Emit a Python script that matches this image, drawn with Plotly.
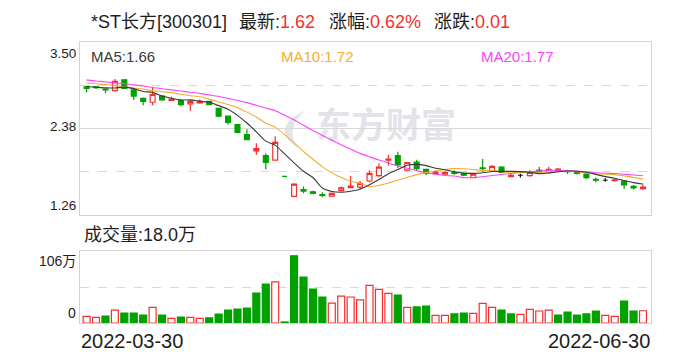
import plotly.graph_objects as go

# ---------------- data ----------------
days = list(range(60))                      # trading-day index
x_labels = ["2022-03-30", "2022-06-30"]     # first / last date labels
stock_name = "*ST长方[300301]"

opens = [2.92, 2.92, 2.89, 2.87, 3.01, 2.88, 2.77, 2.72, 2.80, 2.745,
         2.74, 2.70, 2.71, 2.73, 2.64, 2.54, 2.43, 2.30, 2.09, 2.03,
         1.97, 1.76, 1.50, 1.59, 1.56, 1.525, 1.505, 1.575, 1.615, 1.62,
         1.70, 1.77, 1.97, 2.03, 1.84, 1.945, 1.85, 1.795, 1.79, 1.81,
         1.80, 1.745, 1.87, 1.83, 1.88, 1.755, 1.775, 1.77, 1.84, 1.81,
         1.825, 1.825, 1.82, 1.79, 1.72, 1.71, 1.705, 1.70, 1.63, 1.60]
highs = [2.93, 2.93, 2.90, 3.02, 3.01, 2.89, 2.78, 2.92, 2.81, 2.79,
         2.75, 2.76, 2.76, 2.74, 2.64, 2.54, 2.43, 2.37, 2.19, 2.06,
         2.28, 1.76, 1.67, 1.63, 1.575, 1.555, 1.55, 1.63, 1.765, 1.70,
         1.84, 1.93, 2.04, 2.08, 1.94, 1.975, 1.86, 1.84, 1.825, 1.84,
         1.81, 1.80, 1.985, 1.905, 1.89, 1.80, 1.795, 1.84, 1.88, 1.88,
         1.87, 1.845, 1.83, 1.80, 1.745, 1.74, 1.725, 1.70, 1.65, 1.655]
lows = [2.85, 2.89, 2.84, 2.86, 2.89, 2.75, 2.68, 2.68, 2.74, 2.74,
        2.67, 2.61, 2.70, 2.68, 2.53, 2.43, 2.32, 2.23, 2.04, 1.85,
        1.97, 1.76, 1.49, 1.54, 1.53, 1.49, 1.50, 1.565, 1.61, 1.59,
        1.68, 1.75, 1.90, 1.865, 1.83, 1.84, 1.775, 1.78, 1.78, 1.78,
        1.765, 1.735, 1.82, 1.82, 1.80, 1.755, 1.745, 1.755, 1.80, 1.80,
        1.815, 1.79, 1.785, 1.725, 1.685, 1.69, 1.69, 1.60, 1.59, 1.585]
closes = [2.90, 2.91, 2.88, 2.99, 2.90, 2.80, 2.73, 2.82, 2.75, 2.76,
          2.69, 2.73, 2.73, 2.69, 2.54, 2.46, 2.33, 2.235, 2.12, 1.94,
          2.20, 1.76, 1.66, 1.57, 1.54, 1.515, 1.54, 1.61, 1.635, 1.67,
          1.80, 1.88, 1.985, 1.91, 1.94, 1.86, 1.80, 1.82, 1.81, 1.80,
          1.775, 1.79, 1.86, 1.89, 1.81, 1.775, 1.775, 1.81, 1.81, 1.85,
          1.855, 1.82, 1.80, 1.745, 1.71, 1.71, 1.715, 1.65, 1.61, 1.62]

ma5 = [2.924, 2.915, 2.906, 2.905, 2.916, 2.896, 2.860, 2.848, 2.800, 2.772,
       2.750, 2.750, 2.732, 2.720, 2.676, 2.630, 2.550, 2.451, 2.337, 2.217,
       2.165, 2.051, 1.936, 1.826, 1.746, 1.609, 1.565, 1.555, 1.568, 1.594,
       1.651, 1.719, 1.794, 1.849, 1.903, 1.915, 1.899, 1.866, 1.846, 1.818,
       1.801, 1.799, 1.807, 1.823, 1.825, 1.825, 1.822, 1.812, 1.796, 1.804,
       1.820, 1.829, 1.827, 1.814, 1.786, 1.757, 1.736, 1.706, 1.679, 1.661]
ma10 = [2.970, 2.960, 2.950, 2.935, 2.920, 2.905, 2.890, 2.870, 2.855, 2.844,
        2.823, 2.805, 2.790, 2.760, 2.724, 2.690, 2.650, 2.592, 2.529, 2.447,
        2.398, 2.301, 2.194, 2.082, 1.982, 1.887, 1.808, 1.746, 1.697, 1.670,
        1.630, 1.642, 1.675, 1.709, 1.749, 1.783, 1.809, 1.830, 1.848, 1.861,
        1.858, 1.849, 1.837, 1.835, 1.822, 1.813, 1.811, 1.810, 1.810, 1.815,
        1.823, 1.826, 1.820, 1.805, 1.795, 1.789, 1.783, 1.767, 1.747, 1.724]
ma20 = [3.010, 2.995, 2.985, 2.970, 2.960, 2.945, 2.930, 2.910, 2.895, 2.880,
        2.865, 2.850, 2.835, 2.815, 2.795, 2.770, 2.745, 2.715, 2.680, 2.645,
        2.610, 2.553, 2.492, 2.421, 2.353, 2.289, 2.229, 2.169, 2.113, 2.058,
        2.014, 1.971, 1.934, 1.895, 1.865, 1.835, 1.809, 1.788, 1.772, 1.765,
        1.744, 1.746, 1.756, 1.772, 1.785, 1.798, 1.810, 1.820, 1.829, 1.838,
        1.840, 1.837, 1.828, 1.820, 1.808, 1.801, 1.797, 1.788, 1.778, 1.769]

volume_wan = [9.8, 8.3, 10.3, 19.1, 14.7, 14.7, 11.8, 23.0, 11.8, 6.9,
              8.8, 8.3, 6.9, 7.4, 13.2, 19.1, 20.6, 22.0, 44.2, 57.4,
              60.4, 1.5, 99.0, 67.7, 50.0, 38.3, 29.4, 39.7, 38.3, 33.9,
              55.5, 49.6, 43.7, 41.2, 23.1, 23.6, 25.0, 11.3, 11.3, 13.3,
              14.7, 14.2, 29.0, 23.1, 19.1, 13.3, 12.8, 20.1, 17.7, 19.1,
              11.8, 16.2, 11.8, 13.3, 17.7, 11.3, 9.8, 32.4, 17.7, 18.0]
vol_up = [1, 1, 0, 1, 0, 0, 0, 1, 0, 1,
          0, 1, 1, 0, 0, 0, 0, 0, 0, 0,
          1, 0, 0, 0, 0, 0, 1, 1, 1, 1,
          1, 1, 1, 0, 1, 0, 0, 1, 1, 0,
          0, 1, 1, 1, 0, 0, 1, 1, 1, 1,
          0, 0, 0, 0, 0, 1, 1, 0, 0, 1]

price_ticks = [1.26, 2.38, 3.50]
vol_ticks = [0, 106]

# ---------------- style ----------------
W, H = 688, 360
FONT = "Liberation Sans, Arial, Noto Sans CJK SC, sans-serif"
RED = "#f42f2f"
GREEN = "#00a100"
TXT = "#1e1e1e"
FRAME = "#d3d3d6"
GRID = "#d9d9d9"
C_MA5, C_MA10, C_MA20 = "#3a3a3a", "#f5ae34", "#fb43fb"

def px_x(v):
    return v / W

def px_y(v):
    return 1 - v / H

# plot boxes (pixels)
PL, PR = 80, 651
K_TOP, K_BOT = 42, 215
V_TOP, V_BOT = 251, 323

fig = go.Figure()

# ---------------- candlesticks ----------------
black = [i for i in days if i > 0 and opens[i] == closes[i] and closes[i] == closes[i - 1]]
main = [i for i in days if i not in black]

def pick(arr, ids):
    return [arr[i] for i in ids]

fig.add_trace(go.Candlestick(
    x=pick(days, main), open=pick(opens, main), high=pick(highs, main),
    low=pick(lows, main), close=pick(closes, main),
    increasing=dict(line=dict(color=RED, width=1.2), fillcolor="#ffffff"),
    decreasing=dict(line=dict(color=GREEN, width=1.2), fillcolor=GREEN),
    whiskerwidth=0, showlegend=False, hoverinfo="skip", xaxis="x", yaxis="y"))
fig.add_trace(go.Candlestick(
    x=pick(days, black), open=pick(opens, black), high=pick(highs, black),
    low=pick(lows, black), close=pick(closes, black),
    increasing=dict(line=dict(color="#111111", width=1.2), fillcolor="#111111"),
    decreasing=dict(line=dict(color="#111111", width=1.2), fillcolor="#111111"),
    whiskerwidth=0, showlegend=False, hoverinfo="skip", xaxis="x", yaxis="y"))

# ---------------- moving averages ----------------
for ys, col in ((ma20, C_MA20), (ma10, C_MA10), (ma5, C_MA5)):
    fig.add_trace(go.Scatter(x=days, y=ys, mode="lines",
                             line=dict(color=col, width=1.1, shape="spline", smoothing=0.6),
                             showlegend=False, hoverinfo="skip", xaxis="x", yaxis="y"))

# ---------------- volume ----------------
fig.add_trace(go.Bar(
    x=days, y=volume_wan,
    marker=dict(color=["#ffffff" if u else GREEN for u in vol_up],
                line=dict(color=[RED if u else GREEN for u in vol_up], width=1.2)),
    showlegend=False, hoverinfo="skip", xaxis="x2", yaxis="y2"))

xr = [-0.7, 59.85]
axis_common = dict(showline=True, mirror=True, linecolor=FRAME, linewidth=1,
                   zeroline=False, fixedrange=True)
mid = (price_ticks[0] + price_ticks[-1]) / 2
q1 = price_ticks[0] + (price_ticks[-1] - price_ticks[0]) * 0.25
q3 = price_ticks[0] + (price_ticks[-1] - price_ticks[0]) * 0.75

fig.update_layout(
    width=W, height=H, margin=dict(l=0, r=0, t=0, b=0),
    paper_bgcolor="white", plot_bgcolor="white",
    font=dict(family=FONT, color=TXT, size=13),
    boxgap=0.26, bargap=0.26, barmode="overlay",
    xaxis=dict(domain=[px_x(PL), px_x(PR)], range=xr, showticklabels=False,
               showgrid=False, ticks="", rangeslider=dict(visible=False),
               anchor="y", **axis_common),
    yaxis=dict(domain=[px_y(K_BOT), px_y(K_TOP)], range=[price_ticks[0], price_ticks[-1]],
               tickvals=[mid], showticklabels=False, showgrid=True, gridcolor=GRID,
               gridwidth=1, ticks="", anchor="x",
               minor=dict(tickvals=[q1, q3], showgrid=True, gridcolor=GRID,
                          griddash="dash", gridwidth=1, ticks=""),
               **axis_common),
    xaxis2=dict(domain=[px_x(PL), px_x(PR)], range=xr, showticklabels=False,
                showgrid=False, ticks="", anchor="y2", **axis_common),
    yaxis2=dict(domain=[px_y(V_BOT), px_y(V_TOP)], range=[vol_ticks[0], vol_ticks[-1]],
                tickvals=[vol_ticks[-1] / 2], showticklabels=False, showgrid=True,
                gridcolor=GRID, griddash="dash", gridwidth=1, ticks="", anchor="x2",
                **axis_common),
)

ann = []
# ---- title line ----
last, prev = closes[-1], closes[-2]
chg = last - prev
pct = chg / prev * 100
title_parts = [
    (89, stock_name, TXT, None),
    (237, "最新:", TXT, f"{last:.2f}"),
    (327, "涨幅:", TXT, f"{pct:.2f}%"),
    (432, "涨跌:", TXT, f"{chg:.2f}"),
]
for x0, lab, col, val in title_parts:
    text = lab if val is None else f"{lab}<span style='color:{RED}'>{val}</span>"
    ann.append(dict(x=px_x(x0), y=px_y(22), xref="paper", yref="paper", text=text,
                    xanchor="left", yanchor="middle", showarrow=False,
                    font=dict(size=18, color=col)))
# ---- MA legend ----
for x0, name, vals, col in ((89, "MA5", ma5, C_MA5), (279, "MA10", ma10, C_MA10),
                            (479, "MA20", ma20, C_MA20)):
    ann.append(dict(x=px_x(x0), y=px_y(56), xref="paper", yref="paper",
                    text=f"{name}:{vals[-1]:.2f}", xanchor="left", yanchor="middle",
                    showarrow=False, font=dict(size=15, color=col)))
# ---- price tick labels ----
shifts = {"bottom": 0, "middle": 2, "top": -2}
for v, anc in zip(price_ticks, ("bottom", "middle", "top")):
    ann.append(dict(x=px_x(78), y=v, xref="paper", yref="y", text=f"{v:.2f}",
                    xanchor="right", yanchor=anc, yshift=shifts[anc],
                    showarrow=False, font=dict(size=13.5, color=TXT)))
# ---- volume title / ticks ----
ann.append(dict(x=px_x(82), y=px_y(235), xref="paper", yref="paper",
                text=f"成交量:{volume_wan[-1]:.1f}万", xanchor="left", yanchor="middle",
                showarrow=False, font=dict(size=18, color=TXT)))
ann.append(dict(x=px_x(78), y=vol_ticks[-1], xref="paper", yref="y2",
                text=f"{vol_ticks[-1]}万", xanchor="right", yanchor="top",
                showarrow=False, font=dict(size=14, color=TXT)))
ann.append(dict(x=px_x(78), y=vol_ticks[0], xref="paper", yref="y2",
                text=f"{vol_ticks[0]}", xanchor="right", yanchor="bottom",
                showarrow=False, font=dict(size=14, color=TXT)))
# ---- date labels ----
ann.append(dict(x=px_x(PL - 1), y=px_y(341), xref="paper", yref="paper", text=x_labels[0],
                xanchor="left", yanchor="middle", showarrow=False,
                font=dict(size=20, color=TXT)))
ann.append(dict(x=px_x(PR + 1), y=px_y(341), xref="paper", yref="paper", text=x_labels[1],
                xanchor="right", yanchor="middle", showarrow=False,
                font=dict(size=20, color=TXT)))
fig.update_layout(annotations=ann)

# ---- watermark (behind the data) ----
WM = "#e3e3e9"
shapes = [
    dict(type="rect", xref="paper", yref="paper", layer="below",
         x0=px_x(314), x1=px_x(458), y0=px_y(149), y1=px_y(108),
         line=dict(width=0), fillcolor="rgba(0,0,0,0)",
         label=dict(text="<b>东方财富</b>", font=dict(size=35, color=WM,
                    family="Noto Sans CJK SC"), textposition="middle center")),
]
path = (f"M {px_x(306)},{px_y(110)} Q {px_x(268)},{px_y(128)} {px_x(298)},{px_y(148)} "
        f"Q {px_x(284)},{px_y(128)} {px_x(306)},{px_y(110)} Z")
shapes.append(dict(type="path", xref="paper", yref="paper", layer="below", path=path,
                   fillcolor=WM, line=dict(width=0)))
fig.update_layout(shapes=shapes)

fig.write_html("out.html", config={"displayModeBar": False},
               post_script="document.body.style.margin='0';document.body.style.overflow='hidden';")
